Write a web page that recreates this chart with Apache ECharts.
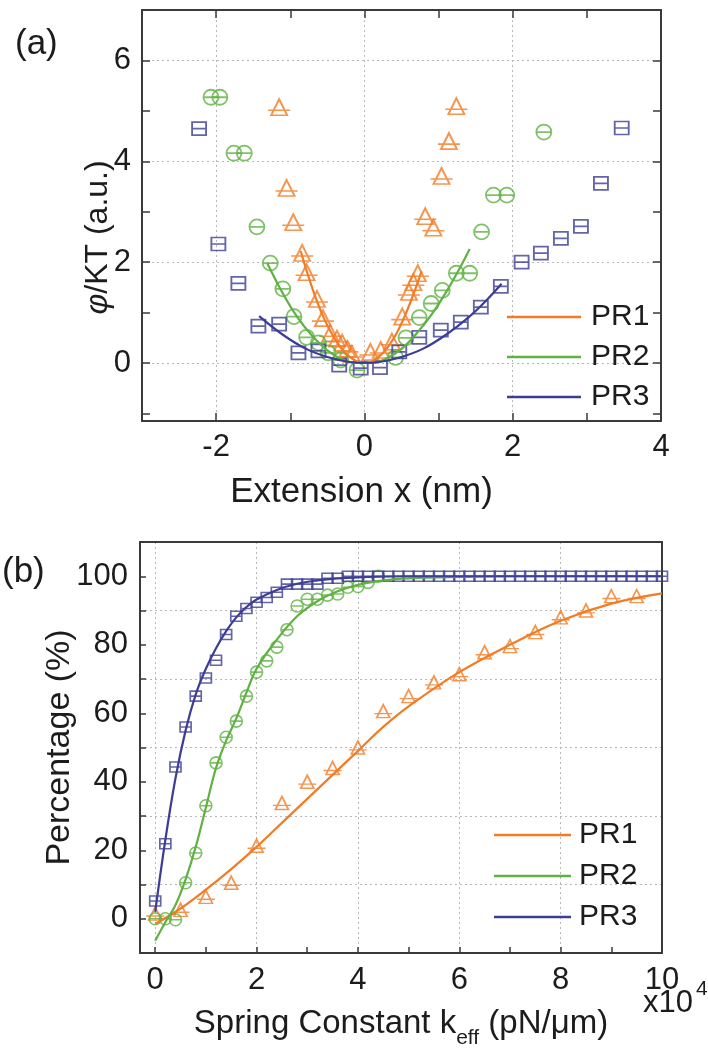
<!DOCTYPE html>
<html>
<head>
<meta charset="utf-8">
<script src="https://cdn.jsdelivr.net/npm/echarts@6.0.0/dist/echarts.min.js"></script>
<style>
  html, body { margin: 0; padding: 0; background: #fff; }
  #main { width: 708px; height: 1050px; }
</style>
</head>
<body>
<div id="main"></div>
<script>
// ---------- panel (a): phi/KT vs extension x (nm) ----------
const aPR1x = [-1.15, -1.05, -0.96, -0.84, -0.78, -0.64, -0.56, -0.46, -0.37, -0.30, -0.23, -0.17, 0.08, 0.22, 0.37, 0.51, 0.60, 0.66, 0.72, 0.82, 0.93, 1.04, 1.14, 1.24];
const aPR1y = [5.07, 3.47, 2.79, 2.18, 1.80, 1.27, 0.89, 0.59, 0.48, 0.40, 0.28, 0.18, 0.22, 0.26, 0.42, 0.92, 1.41, 1.60, 1.78, 2.91, 2.68, 3.71, 4.40, 5.09];

const aPR2x = [-2.07, -1.95, -1.76, -1.62, -1.45, -1.27, -1.10, -0.95, -0.78, -0.62, -0.49, -0.32, -0.10, 0.42, 0.56, 0.74, 0.90, 1.05, 1.24, 1.42, 1.58, 1.74, 1.92, 2.42];
const aPR2y = [5.27, 5.27, 4.16, 4.16, 2.70, 1.98, 1.47, 0.92, 0.51, 0.40, 0.20, 0.06, -0.14, 0.11, 0.50, 0.90, 1.18, 1.44, 1.78, 1.78, 2.60, 3.33, 3.33, 4.58];

const aPR3x = [-2.23, -1.97, -1.70, -1.43, -1.15, -0.89, -0.62, -0.34, -0.05, 0.21, 0.47, 0.74, 1.03, 1.30, 1.57, 1.84, 2.12, 2.38, 2.65, 2.92, 3.19, 3.47];
const aPR3y = [4.65, 2.36, 1.58, 0.73, 0.77, 0.20, 0.24, -0.04, -0.10, -0.09, 0.22, 0.51, 0.65, 0.81, 1.11, 1.52, 2.00, 2.18, 2.47, 2.71, 3.56, 4.66];

// fitted curves
const aFit1x = [-0.86, -0.70, -0.55, -0.40, -0.25, -0.10, 0, 0.10, 0.25, 0.40, 0.55, 0.70, 0.77];
const aFit1y = [2.22, 1.47, 0.90, 0.48, 0.19, 0.03, 0, 0.03, 0.20, 0.50, 0.95, 1.52, 1.82];
const aFit2x = [-1.31, -1.10, -0.90, -0.70, -0.50, -0.30, -0.10, 0.10, 0.30, 0.50, 0.70, 0.90, 1.10, 1.30, 1.42];
const aFit2y = [1.98, 1.38, 0.90, 0.53, 0.25, 0.07, 0, 0, 0.09, 0.28, 0.58, 0.95, 1.40, 1.92, 2.26];
const aFit3x = [-1.42, -1.10, -0.80, -0.50, -0.20, 0, 0.20, 0.50, 0.80, 1.10, 1.40, 1.65, 1.85];
const aFit3y = [0.93, 0.56, 0.29, 0.12, 0.02, 0, 0.02, 0.12, 0.29, 0.56, 0.90, 1.25, 1.57];

const aYTicks = [-1, 0, 1, 2, 3, 4, 5, 6];
const aYLabels = [0, 2, 4, 6];

// ---------- panel (b): percentage vs spring constant (x10^4 pN/um) ----------
const bK = [0, 0.2, 0.4, 0.6, 0.8, 1, 1.2, 1.4, 1.6, 1.8, 2, 2.2, 2.4, 2.6, 2.8, 3, 3.2, 3.4, 3.6, 3.8,
            4, 4.2, 4.4, 4.6, 4.8, 5, 5.2, 5.4, 5.6, 5.8, 6, 6.2, 6.4, 6.6, 6.8, 7, 7.2, 7.4, 7.6, 7.8,
            8, 8.2, 8.4, 8.6, 8.8, 9, 9.2, 9.4, 9.6, 9.8, 10];
const bPR3 = [5.2, 21.9, 44.3, 56, 65, 70.3, 75.5, 83, 88.3, 90.6, 92.4, 93.8, 95.3, 97.7, 97.7, 97.7, 97.7, 99.4, 99.4, 100,
              100, 100, 100, 100, 100, 100, 100, 100, 100, 100, 100, 100, 100, 100, 100, 100, 100, 100, 100, 100,
              100, 100, 100, 100, 100, 100, 100, 100, 100, 100, 100];
const bPR2 = [0, 0, -0.3, 10.5, 19.2, 33, 45.5, 53, 57.7, 65, 72, 75.3, 79.3, 84.4, 91.3, 93.3, 93.3, 94.5, 94.8, 96.8,
              97, 98.2, 100];
const bPR1k = [0, 0.5, 1, 1.5, 2, 2.5, 3, 3.5, 4, 4.5, 5, 5.5, 6, 6.5, 7, 7.5, 8, 8.5, 9, 9.5];
const bPR1 = [1.5, 2.6, 6.4, 10.5, 21.3, 33.8, 40, 44, 50, 60.6, 65, 69, 71.4, 77.8, 79.6, 83.7, 88, 90, 94.2, 94.2];

const bFit1x = [0, 0.5, 1, 1.5, 2, 2.5, 3, 3.5, 4, 4.5, 5, 6, 7, 8, 9, 10];
const bFit1y = [-1.5, 3, 8.5, 14.5, 21, 28, 35, 42, 49, 56, 62, 72, 80, 87, 92, 95];
const bFit2x = [0, 0.2, 0.4, 0.6, 0.8, 1.0, 1.2, 1.4, 1.6, 1.8, 2.0, 2.4, 2.8, 3.2, 3.6, 4.0, 4.5, 5, 6, 7, 8, 10];
const bFit2y = [-6.4, -1, 4, 11.5, 21, 32.5, 44, 52, 58.5, 66, 73, 81.5, 88.3, 92.7, 95.6, 97.5, 98.8, 99.4, 99.8, 100, 100, 100];
const bFit3x = [0, 0.2, 0.4, 0.6, 0.8, 1.0, 1.2, 1.4, 1.6, 1.8, 2.0, 2.4, 2.8, 3.2, 3.6, 4.0, 5, 6, 8, 10];
const bFit3y = [2, 23, 41, 55, 65.5, 73, 79, 84, 88, 91, 93.2, 96, 97.8, 98.8, 99.4, 99.7, 100, 100, 100, 100];

const bXTicks = [0, 1, 2, 3, 4, 5, 6, 7, 8, 9, 10];
const bXLabels = [0, 2, 4, 6, 8, 10];

const names = ['PR1', 'PR2', 'PR3'];

// ---------- style ----------
const C1 = '#F27B24', C2 = '#5FB142', C3 = '#3D3D95';
const TXT = '#1c1c1c', AXIS = '#3a3a3a', GRIDC = '#b8b8b8', NONE = 'rgba(0,0,0,0)';
const FONT = '"Liberation Sans", Arial, Helvetica, sans-serif';

const TRI = 'path://M11,0 L19,16 L3,16 Z M0,11 L22,11';
const CIRC = 'path://M0,7 A7,7 0 1,1 14,7 A7,7 0 1,1 0,7 Z M0,7 L14,7';
const SQ = 'path://M0,0 L14,0 L14,13 L0,13 Z M0,6.5 L14,6.5';

const pts = (xs, ys) => xs.map((x, i) => [x, ys[i]]);

const lbl = { fontSize: 31, color: TXT, fontFamily: FONT };
const axLine = { show: true, onZero: false, lineStyle: { color: AXIS, width: 2 } };

function scatter(name, xi, data, symbol, size, color, bw) {
  return {
    type: 'scatter', name: name, xAxisIndex: xi, yAxisIndex: xi, data: data,
    symbol: symbol, symbolSize: size, silent: true,
    itemStyle: { color: NONE, borderColor: color, borderWidth: bw }
  };
}
function fit(name, xi, data, color) {
  return {
    type: 'line', name: name, xAxisIndex: xi, yAxisIndex: xi, data: data,
    showSymbol: false, symbol: 'none', smooth: 0.4, silent: true,
    lineStyle: { color: color, width: 2.2 }, itemStyle: { color: color }
  };
}

let chartDom = document.getElementById('main');
let myChart = echarts.init(chartDom, null, { renderer: 'canvas' });
let option = {
  animation: false,
  backgroundColor: '#fff',
  grid: [
    { left: 142, top: 10, width: 519, height: 411 },
    { left: 140, top: 542, width: 522, height: 413 }
  ],
  legend: [
    {
      data: names, orient: 'vertical', left: 502, top: 297, icon: 'rect',
      itemWidth: 74, itemHeight: 2.5, itemGap: 10, selectedMode: false,
      itemStyle: { borderWidth: 0 },
      textStyle: { fontSize: 30, lineHeight: 30, color: TXT, fontFamily: FONT, padding: [0, 0, 0, 5] }
    },
    {
      data: names, orient: 'vertical', left: 489, top: 815, icon: 'rect',
      itemWidth: 77, itemHeight: 2.5, itemGap: 11, selectedMode: false,
      itemStyle: { borderWidth: 0 },
      textStyle: { fontSize: 30, lineHeight: 30, color: TXT, fontFamily: FONT, padding: [0, 0, 0, 3] }
    }
  ],
  xAxis: [
    { // (a) bottom
      type: 'value', gridIndex: 0, position: 'bottom', min: -3, max: 4, interval: 1,
      axisLine: axLine,
      axisTick: { inside: true, length: 8, lineStyle: { color: AXIS, width: 1.5 } },
      axisLabel: Object.assign({ margin: 11, formatter: v => (v % 2 === 0 ? String(v) : '') }, lbl),
      splitLine: { show: true, lineStyle: { color: [NONE, GRIDC], type: [2, 3], width: 1 } },
      name: 'Extension x (nm)', nameLocation: 'middle', nameGap: 54,
      nameTextStyle: { fontSize: 35, color: TXT, fontFamily: FONT, padding: [0, 80, 0, 0] }
    },
    { // (a) top
      type: 'value', gridIndex: 0, position: 'top', min: -3, max: 4, interval: 1,
      axisLine: axLine,
      axisTick: { inside: true, length: 8, lineStyle: { color: AXIS, width: 1.5 } },
      axisLabel: { show: false }, splitLine: { show: false }
    },
    { // (b) bottom
      type: 'value', gridIndex: 1, position: 'bottom', min: -0.3, max: 10,
      axisLine: axLine,
      axisTick: { inside: true, length: 6, customValues: bXTicks, lineStyle: { color: AXIS, width: 1.5 } },
      axisLabel: Object.assign({ margin: 12, customValues: bXLabels }, lbl),
      splitLine: { show: true, lineStyle: { color: [GRIDC, NONE], type: [2, 3], width: 1 } },
      name: 'Spring Constant k{s|eff} (pN/\u03bcm)', nameLocation: 'middle', nameGap: 45,
      nameTextStyle: {
        fontSize: 33, color: TXT, fontFamily: FONT,
        rich: { s: { fontSize: 21, color: TXT, fontFamily: FONT, padding: [30, 0, 0, 0] } }
      }
    },
    { // (b) top border
      type: 'value', gridIndex: 1, position: 'top', min: -0.3, max: 10,
      axisLine: axLine, axisTick: { show: false }, axisLabel: { show: false }, splitLine: { show: false }
    }
  ],
  yAxis: [
    { // (a) left
      type: 'value', gridIndex: 0, position: 'left', min: -1.15, max: 7,
      axisLine: axLine,
      axisTick: { inside: true, length: 8, customValues: aYTicks, lineStyle: { color: AXIS, width: 1.5 } },
      axisLabel: Object.assign({ margin: 11, customValues: aYLabels }, lbl),
      splitLine: { show: true, lineStyle: { color: [NONE, GRIDC], type: [2, 3], width: 1 } },
      name: '{i|\u03c6}/KT (a.u.)', nameLocation: 'middle', nameGap: 28, nameMoveOverlap: false,
      nameTextStyle: {
        fontSize: 32, color: TXT, fontFamily: FONT, padding: [0, 44, 0, 0],
        rich: { i: { fontSize: 32, fontStyle: 'italic', color: TXT, fontFamily: FONT } }
      }
    },
    { // (a) right
      type: 'value', gridIndex: 0, position: 'right', min: -1.15, max: 7,
      axisLine: axLine,
      axisTick: { inside: true, length: 8, customValues: aYTicks, lineStyle: { color: AXIS, width: 1.5 } },
      axisLabel: { show: false }, splitLine: { show: false }
    },
    { // (b) left
      type: 'value', gridIndex: 1, position: 'left', min: -10, max: 110, interval: 10,
      axisLine: axLine,
      axisTick: { inside: true, length: 6, lineStyle: { color: AXIS, width: 1.5 } },
      axisLabel: Object.assign({ margin: 12, formatter: v => (v >= 0 && v <= 100 && v % 20 === 0 ? String(v) : '') }, lbl),
      splitLine: { show: true, lineStyle: { color: [GRIDC, NONE], type: [2, 3], width: 1 } },
      name: 'Percentage (%)', nameLocation: 'middle', nameGap: 63, nameMoveOverlap: false,
      nameTextStyle: { fontSize: 34, color: TXT, fontFamily: FONT }
    },
    { // (b) right border
      type: 'value', gridIndex: 1, position: 'right', min: -10, max: 110,
      axisLine: axLine, axisTick: { show: false }, axisLabel: { show: false }, splitLine: { show: false }
    }
  ],
  graphic: [
    { type: 'text', left: 15, top: 27, style: { text: '(a)', fontSize: 35, fill: TXT, fontFamily: FONT } },
    { type: 'text', left: 2, top: 555, style: { text: '(b)', fontSize: 35, fill: TXT, fontFamily: FONT } },
    { type: 'text', left: 643, top: 988, style: { text: 'x10', fontSize: 31, fill: TXT, fontFamily: FONT } },
    { type: 'text', left: 696, top: 979, style: { text: '4', fontSize: 21, fill: TXT, fontFamily: FONT } }
  ],
  series: [
    scatter('PR1 data', 0, pts(aPR1x, aPR1y), TRI, [22, 16], C1, 1.8),
    scatter('PR2 data', 0, pts(aPR2x, aPR2y), CIRC, 15, C2, 1.8),
    scatter('PR3 data', 0, pts(aPR3x, aPR3y), SQ, [14, 13], C3, 1.8),
    fit('PR1', 0, pts(aFit1x, aFit1y), C1),
    fit('PR2', 0, pts(aFit2x, aFit2y), C2),
    fit('PR3', 0, pts(aFit3x, aFit3y), C3),

    scatter('PR1 data b', 2, pts(bPR1k, bPR1), TRI, [18, 13], C1, 1.6),
    scatter('PR2 data b', 2, pts(bK.slice(0, bPR2.length), bPR2), CIRC, 12, C2, 1.6),
    scatter('PR3 data b', 2, pts(bK, bPR3), SQ, [11, 10], C3, 1.6),
    fit('PR1', 2, pts(bFit1x, bFit1y), C1),
    fit('PR2', 2, pts(bFit2x, bFit2y), C2),
    fit('PR3', 2, pts(bFit3x, bFit3y), C3)
  ]
};

option && myChart.setOption(option);
</script>
</body>
</html>
